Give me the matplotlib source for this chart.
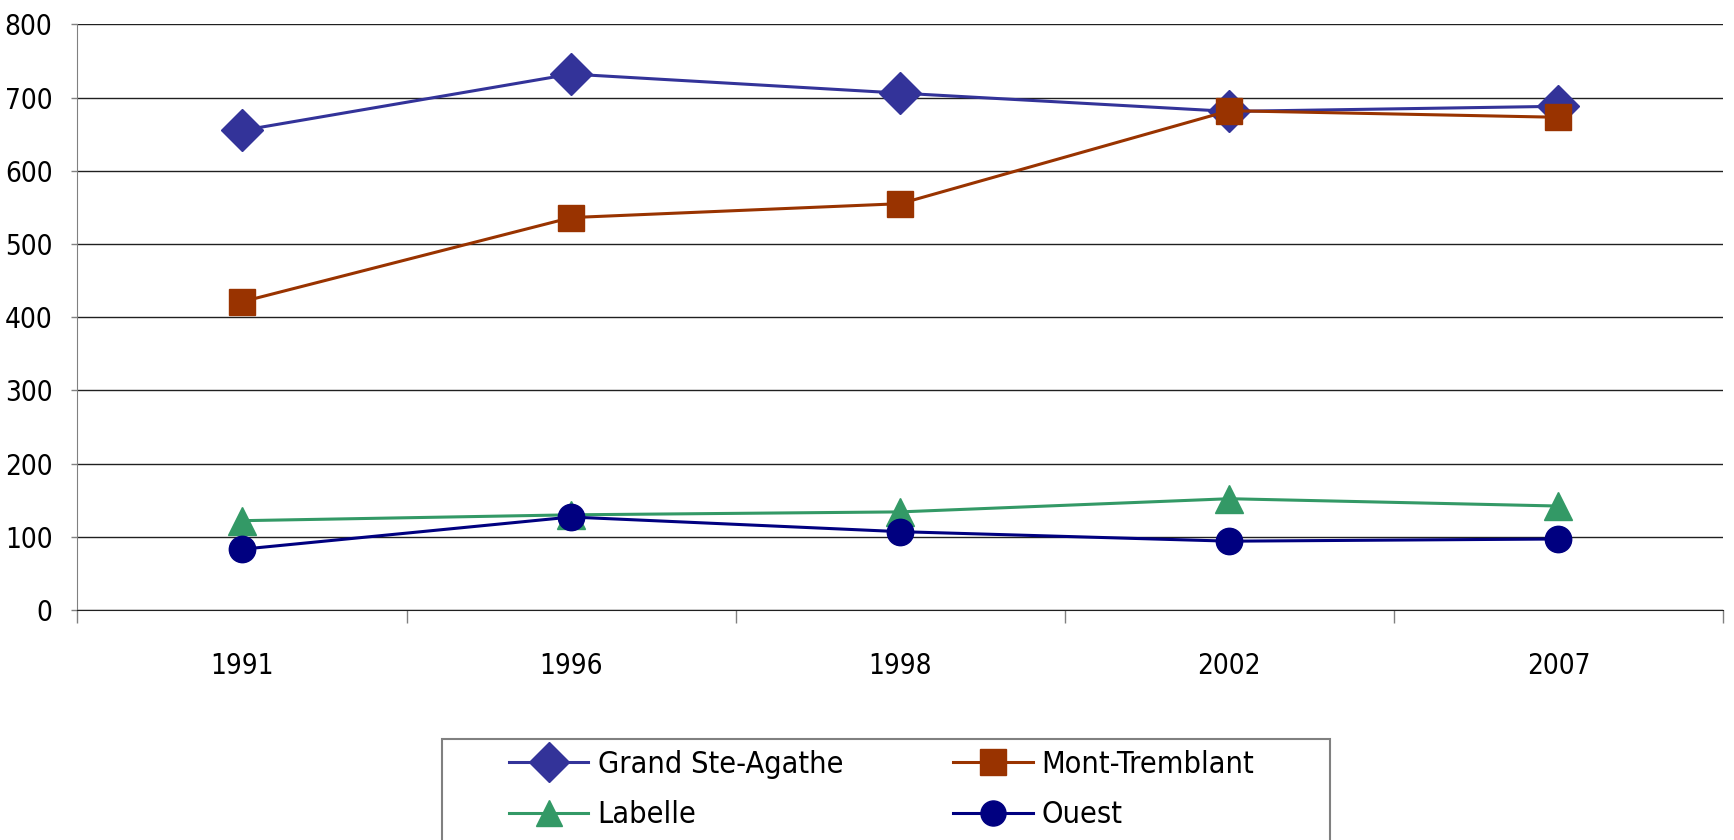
import matplotlib
matplotlib.use('Agg')
import matplotlib.pyplot as plt
from matplotlib import font_manager
from matplotlib.patches import Rectangle

# look for a narrow sans (the original uses Arial Narrow)
installed = [f for f in font_manager.fontManager.ttflist]
narrow = None
for f in installed:
    if ('Narrow' in f.name or 'Condensed' in f.name or str(f.stretch) in ('condensed', 'semi-condensed')) \
            and f.weight in (400, 'normal', 'regular') and f.style == 'normal':
        narrow = f
        break

if narrow is not None:
    font = font_manager.FontProperties(fname=narrow.fname)
    fs_tick, fs_leg = 20, 22
else:
    font = font_manager.FontProperties(family=['Liberation Sans', 'DejaVu Sans'])
    fs_tick, fs_leg = 17, 19

years = ['1991', '1996', '1998', '2002', '2007']
grand_ste_agathe = [655, 732, 706, 681, 688]
mont_tremblant = [421, 536, 555, 682, 673]
labelle = [122, 130, 134, 152, 142]
ouest = [83, 127, 107, 94, 97]

series = [
    ('Grand Ste-Agathe', grand_ste_agathe, '#333399', 'D', 21),
    ('Mont-Tremblant', mont_tremblant, '#993300', 's', 19),
    ('Labelle', labelle, '#339966', '^', 20),
    ('Ouest', ouest, '#000080', 'o', 19),
]

fig = plt.figure(figsize=(17.34, 8.4), dpi=100)
ax = fig.add_axes([77.4/1734, 1-610/840, (1723-77.4)/1734, (610-24.3)/840])

x = list(range(len(years)))
lines = {}
for name, vals, col, mk, ms in series:
    lines[name], = ax.plot(x, vals, color=col, lw=2.2, marker=mk, markersize=ms,
                           markerfacecolor=col, markeredgecolor=col, label=name, clip_on=False)

ax.set_ylim(0, 800)
ax.set_xlim(-0.5, len(years)-0.5)
ax.set_yticks(range(0, 801, 100))
ax.yaxis.grid(True, color='#202020', lw=1)
ax.set_axisbelow(True)

ax.set_xticks(x)
ax.set_xticklabels(years)
ax.set_xticks([i-0.5 for i in range(len(years)+1)], minor=True)
ax.tick_params(axis='x', which='major', length=0, pad=30)
ax.tick_params(axis='x', which='minor', length=9, width=1, color='#808080')
ax.tick_params(axis='y', length=4, width=1, color='#808080', pad=14)
for lab in ax.get_xticklabels() + ax.get_yticklabels():
    lab.set_fontproperties(font)
    lab.set_fontsize(fs_tick)

for s in ['top', 'right']:
    ax.spines[s].set_visible(False)
ax.spines['left'].set_color('#808080')
ax.spines['bottom'].set_color('#202020')

# row-wise order: matplotlib fills legend columns first
order = ['Grand Ste-Agathe', 'Labelle', 'Mont-Tremblant', 'Ouest']
leg_font = font.copy()
leg_font.set_size(fs_leg)
leg = fig.legend([lines[n] for n in order], order, loc='upper left',
                 bbox_to_anchor=(509/1734, 1-750/840), ncol=2,
                 frameon=False, prop=leg_font, handlelength=2.6, handletextpad=0.3,
                 columnspacing=3.6, labelspacing=0.7, borderpad=0, borderaxespad=0,
                 markerscale=0.95)

fig.patches.append(Rectangle((442/1734, -0.1), (1330-442)/1734, 0.1+1-739/840,
                             transform=fig.transFigure, fill=False,
                             edgecolor='#808080', lw=1.5))

fig.savefig('out.png', dpi=100)
